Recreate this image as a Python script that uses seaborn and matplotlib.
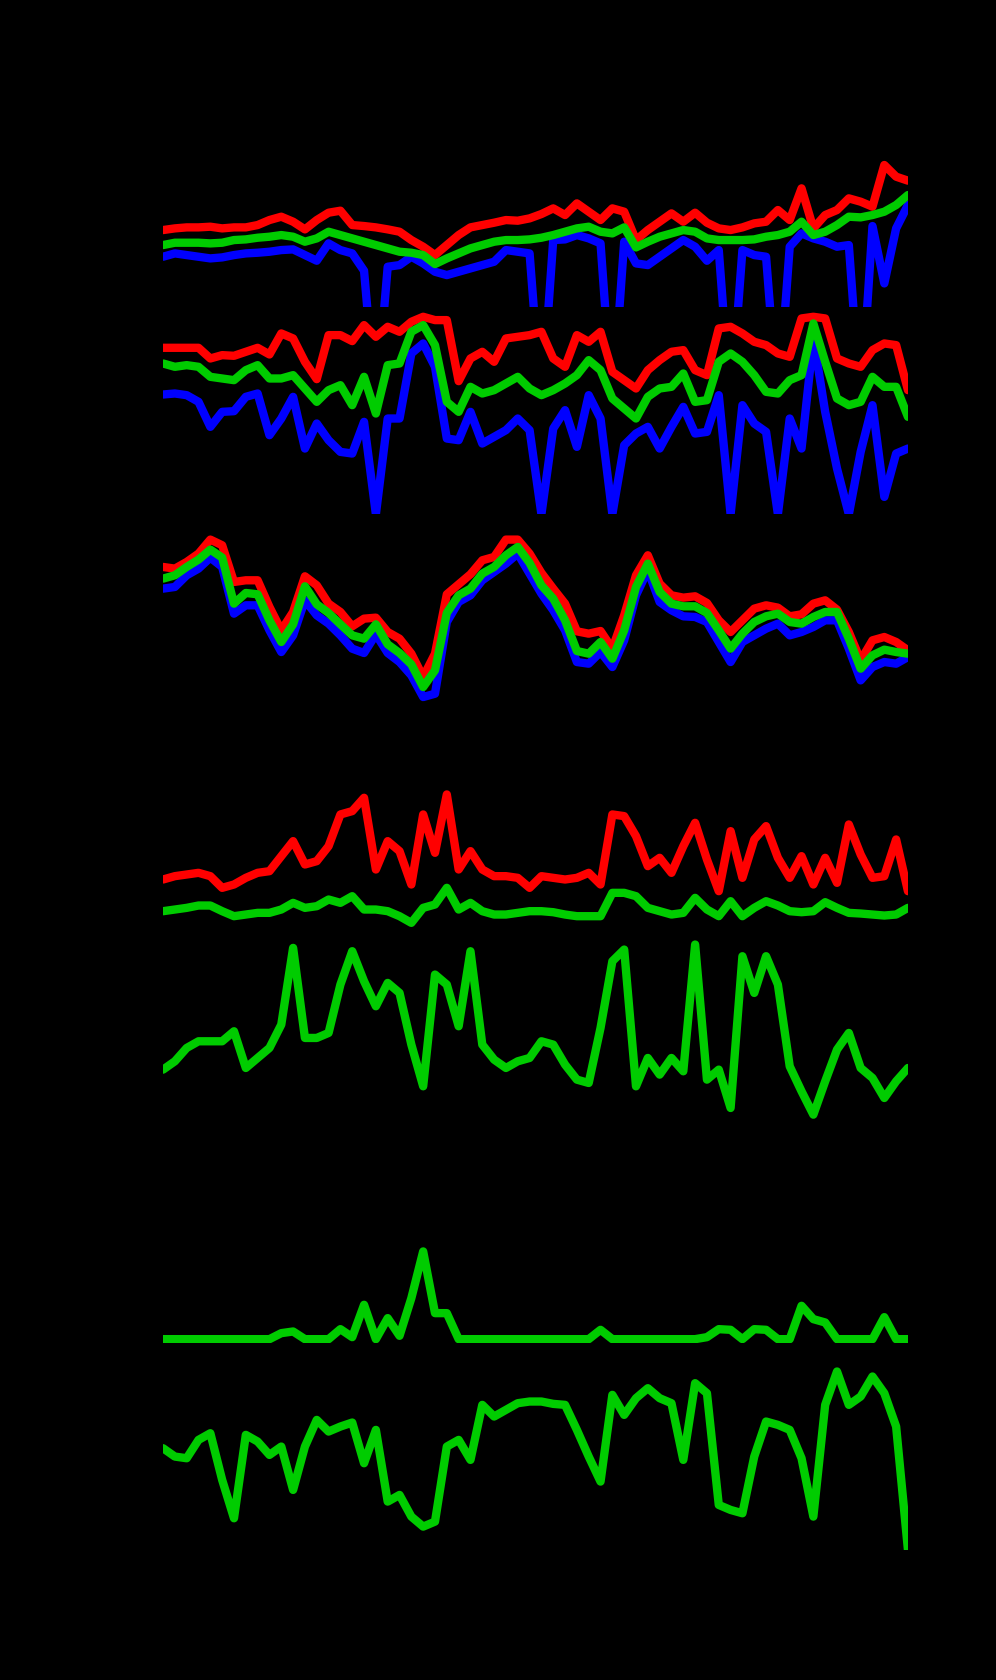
import seaborn as sns
import matplotlib.pyplot as plt
import pandas as pd
import numpy as np

# one reading per day, 64 days
days = list(range(64))

# panel 1 - three traces, the lower one has dropouts
p1_red = [23.1, 23.6, 23.9, 23.9, 24.1, 23.6, 23.9, 23.9, 24.6, 26.1,
          27.1, 25.6, 23.3, 26.1, 28.3, 28.9, 24.6, 24.3, 23.9, 23.3,
          22.6, 20.1, 18.1, 15.6, 18.6, 21.6, 23.9, 24.6, 25.3, 26.1,
          25.9, 26.6, 27.9, 29.6, 27.6, 31.1, 28.6, 26.1, 29.6, 28.6,
          20.1, 23.1, 25.6, 28.1, 25.6, 28.3, 25.3, 23.6, 23.1, 23.9,
          25.1, 25.6, 29.1, 26.1, 35.6, 23.6, 27.6, 29.1, 32.6, 31.6,
          30.1, 42.6, 39.1, 37.9]
p1_green = [18.6, 19.3, 19.3, 19.3, 19.1, 19.3, 20.1, 20.3, 20.8, 21.1,
            21.6, 21.1, 19.6, 20.6, 22.6, 21.6, 20.6, 19.6, 18.6, 17.6,
            16.6, 16.3, 15.6, 12.9, 14.6, 16.1, 17.6, 18.6, 19.6, 20.1,
            20.1, 20.3, 20.8, 21.6, 22.6, 23.6, 24.1, 22.6, 22.1, 23.9,
            17.9, 19.6, 21.1, 22.1, 23.1, 22.6, 20.6, 20.1, 20.1, 20.1,
            20.3, 21.1, 21.6, 22.6, 25.6, 21.6, 22.6, 24.6, 27.1, 26.9,
            27.6, 28.6, 30.6, 33.6]
p1_blue = [15.1, 16.1, 15.6, 15.1, 14.6, 14.9, 15.6, 16.1, 16.3, 16.6,
           17.1, 17.3, 15.6, 13.9, 19.1, 17.1, 16.1, 10.9, -30.0, 12.1,
           12.6, 15.1, 13.1, 10.6, 9.6, 10.6, 11.6, 12.6, 13.6, 17.1,
           16.6, 16.1, -30.0, 20.1, 20.3, 21.6, 20.6, 19.1, -30.0, 19.6,
           13.1, 12.6, 15.1, 17.6, 20.1, 18.1, 13.9, 17.1, -30.0, 17.1,
           15.6, 15.1, -30.0, 18.1, 22.1, 20.6, 19.6, 18.1, 18.6, -30.0,
           24.3, 7.1, 23.6, 30.6]

# panel 2
p2_red = [49.9, 49.9, 49.9, 49.9, 46.7, 47.7, 47.5, 48.7, 49.9, 47.9,
          54.2, 52.7, 45.7, 40.5, 53.7, 53.7, 51.9, 56.7, 53.2, 56.2,
          54.7, 57.7, 59.2, 58.2, 58.2, 39.9, 46.7, 48.7, 45.7, 52.7,
          53.2, 53.7, 54.7, 46.7, 44.2, 53.7, 51.7, 54.7, 42.7, 40.2,
          37.7, 43.2, 46.2, 48.7, 49.2, 43.2, 41.7, 55.7, 56.2, 54.2,
          51.7, 50.7, 48.2, 47.2, 58.7, 59.2, 58.7, 46.7, 45.2, 44.2,
          49.2, 51.2, 50.7, 37.2]
p2_green = [45.2, 44.2, 44.7, 44.2, 41.2, 40.7, 40.2, 43.2, 44.7, 40.7,
            40.7, 41.7, 37.7, 33.7, 37.2, 38.7, 32.7, 41.2, 30.2, 44.7,
            45.2, 54.7, 56.7, 50.7, 33.7, 30.7, 38.2, 36.2, 37.2, 39.2,
            41.2, 37.7, 35.7, 37.2, 39.2, 41.7, 46.2, 43.2, 34.7, 31.7,
            28.7, 35.2, 37.7, 38.2, 42.2, 33.7, 34.2, 45.7, 48.2, 45.7,
            41.7, 36.7, 36.2, 40.2, 41.7, 57.2, 45.7, 34.7, 32.7, 33.7,
            41.2, 38.2, 38.2, 29.2]
p2_blue = [35.9, 36.2, 35.7, 33.7, 26.2, 30.7, 30.9, 35.2, 36.2, 23.7,
           28.7, 35.2, 19.7, 27.2, 22.2, 18.7, 18.2, 27.7, 0.0, 28.7,
           28.7, 48.2, 51.2, 44.2, 22.7, 22.2, 30.7, 21.2, 23.2, 25.2,
           28.7, 25.2, 0.0, 25.7, 31.2, 20.2, 35.7, 28.7, 0.0, 20.7,
           24.2, 26.2, 19.7, 26.2, 32.2, 24.2, 24.7, 35.7, 0.0, 32.7,
           27.2, 24.7, 0.0, 28.7, 19.7, 52.7, 30.7, 13.7, 0.0, 18.7,
           32.7, 5.2, 18.2, 19.7]

# panel 3
p3_red = [46.3, 45.8, 47.8, 50.3, 54.5, 52.8, 41.8, 42.3, 42.3, 34.3,
          27.3, 32.8, 43.5, 40.8, 35.3, 32.8, 28.5, 30.8, 31.1, 26.8,
          24.8, 20.3, 13.3, 20.3, 38.1, 41.1, 44.1, 48.3, 49.3, 54.5,
          54.5, 50.3, 44.5, 39.8, 35.3, 27.0, 26.3, 27.1, 21.8, 31.8,
          43.8, 49.8, 41.3, 37.8, 37.1, 37.5, 35.5, 30.3, 26.8, 30.3,
          33.8, 34.8, 34.1, 31.5, 32.1, 35.3, 36.3, 33.5, 26.8, 18.3,
          24.3, 25.3, 23.8, 21.3]
p3_green = [42.8, 43.8, 46.3, 48.5, 51.5, 49.1, 35.3, 38.5, 38.1, 30.3,
            23.8, 29.1, 40.5, 35.1, 32.5, 29.1, 25.8, 24.8, 29.1, 23.1,
            20.5, 17.1, 10.3, 15.3, 32.5, 37.8, 39.8, 44.3, 46.3, 49.8,
            52.3, 47.5, 40.8, 36.8, 30.3, 21.1, 20.3, 23.8, 18.8, 27.3,
            40.3, 47.3, 38.8, 35.3, 34.5, 34.5, 32.5, 27.3, 21.8, 26.3,
            29.8, 31.5, 32.3, 29.8, 29.3, 31.3, 32.8, 32.8, 24.8, 15.8,
            19.8, 21.5, 20.8, 20.3]
p3_blue = [39.8, 40.3, 43.8, 45.8, 49.1, 46.3, 32.3, 34.8, 34.8, 27.3,
           20.8, 25.8, 36.3, 31.8, 29.3, 25.8, 21.8, 20.5, 26.1, 20.5,
           17.8, 13.8, 7.3, 8.3, 29.8, 35.8, 37.8, 42.3, 44.8, 47.3,
           50.3, 44.3, 38.3, 33.3, 27.3, 17.8, 17.3, 20.8, 16.3, 24.3,
           37.8, 45.3, 35.8, 33.3, 31.5, 31.3, 29.8, 23.8, 17.8, 23.8,
           25.8, 27.8, 29.3, 25.8, 26.8, 28.3, 30.3, 30.3, 21.8, 12.3,
           16.3, 17.8, 17.3, 19.3]

# panel 4
p4_red = [14.7, 15.7, 16.2, 16.7, 15.7, 12.2, 13.2, 15.2, 16.7, 17.2,
          21.7, 26.2, 19.2, 20.2, 24.7, 34.2, 35.2, 39.2, 17.7, 26.2,
          23.2, 13.2, 34.2, 22.7, 40.2, 17.7, 23.2, 17.7, 15.7, 15.7,
          15.2, 12.2, 15.7, 15.2, 14.7, 15.2, 16.7, 13.2, 34.2, 33.7,
          27.7, 18.7, 21.2, 16.7, 24.7, 31.7, 20.7, 11.2, 29.2, 15.2,
          26.7, 30.7, 21.2, 15.2, 21.7, 13.2, 21.2, 13.7, 31.2, 22.2,
          15.2, 15.7, 26.7, 11.2]
p4_green = [5.2, 5.7, 6.2, 6.9, 6.9, 5.2, 3.7, 4.2, 4.7, 4.7,
            5.7, 7.7, 6.2, 6.7, 8.7, 7.7, 9.7, 5.7, 5.7, 5.2,
            3.7, 1.7, 6.2, 7.2, 12.2, 5.7, 7.7, 5.2, 4.2, 4.2,
            4.7, 5.2, 5.2, 4.9, 4.2, 3.7, 3.7, 3.7, 10.7, 10.7,
            9.7, 6.2, 5.2, 4.2, 4.7, 9.2, 5.7, 3.7, 8.2, 3.7,
            6.2, 8.2, 6.9, 5.2, 4.9, 5.2, 7.9, 6.2, 4.7, 4.5,
            4.2, 3.9, 4.2, 6.2]

# panel 5
p5_green = [19.8, 22.3, 26.3, 28.3, 28.3, 28.3, 31.3, 20.3, 23.3, 26.3,
            33.3, 56.3, 29.3, 29.3, 30.8, 45.3, 55.3, 46.3, 38.8, 45.8,
            42.8, 27.3, 14.8, 48.3, 45.3, 32.8, 55.3, 27.3, 22.8, 20.3,
            22.3, 23.3, 28.3, 27.3, 21.3, 16.8, 15.8, 32.3, 52.3, 55.8,
            14.8, 23.3, 18.3, 23.3, 19.3, 57.3, 16.8, 19.8, 8.3, 53.8,
            42.8, 53.8, 45.3, 20.8, 13.3, 6.3, 16.3, 25.8, 30.8, 20.3,
            17.3, 11.3, 16.3, 20.3]

# panel 6 - mostly zero
p6_green = [0, 0, 0, 0, 0, 0, 0, 0, 0, 0,
            1.8, 2.3, 0, 0, 0, 3.0, 0.6, 10.3, 0, 6.3,
            1.0, 12.3, 26.3, 7.8, 7.8, 0, 0, 0, 0, 0,
            0, 0, 0, 0, 0, 0, 0, 2.8, 0, 0,
            0, 0, 0, 0, 0, 0, 0.6, 3.0, 2.8, 0,
            3.0, 2.8, 0, 0, 10.0, 6.0, 5.0, 0, 0, 0,
            0, 6.6, 0, 0]

# panel 7
p7_green = [30.5, 28.0, 27.5, 33.0, 35.0, 21.0, 9.5, 34.5, 32.5, 28.5,
            31.0, 18.0, 31.0, 39.0, 35.5, 37.0, 38.2, 26.0, 36.0, 14.5,
            16.5, 10.0, 7.0, 8.5, 31.0, 33.0, 27.0, 43.5, 40.0, 42.0,
            44.0, 44.5, 44.5, 43.8, 43.5, 36.0, 28.0, 20.5, 46.5, 40.5,
            45.5, 48.5, 45.5, 44.0, 27.0, 50.0, 47.0, 13.5, 12.0, 11.0,
            28.0, 38.5, 37.5, 36.0, 27.5, 10.0, 43.5, 53.5, 43.5, 46.0,
            52.0, 47.0, 37.0, 0.0]

RED = '#ff0000'
GREEN = '#00cc00'
BLUE = '#0000ff'

# drawing order: blue under red under green
panels = [
    ([(p1_blue, BLUE), (p1_red, RED), (p1_green, GREEN)], (0, 62.1)),
    ([(p2_blue, BLUE), (p2_red, RED), (p2_green, GREEN)], (0, 62.1)),
    ([(p3_blue, BLUE), (p3_red, RED), (p3_green, GREEN)], (0, 62.1)),
    ([(p4_red, RED), (p4_green, GREEN)], (0, 62.1)),
    ([(p5_green, GREEN)], (0, 62.1)),
    ([(p6_green, GREEN)], (-1.1, 61.0)),
    ([(p7_green, GREEN)], (0, 62.1)),
]


def main():
    sns.set_theme(style="dark", rc={'figure.facecolor': 'black',
                                    'axes.facecolor': 'black'})

    fig, axes = plt.subplots(len(panels), 1, figsize=(9.96, 16.8), dpi=100, sharex=True)
    fig.subplots_adjust(left=0.1637, right=0.9116, top=0.9405, bottom=0.0774, hspace=0)

    for ax, (series, ylim) in zip(axes, panels):
        for values, color in series:
            df = pd.DataFrame({'day': days, 'value': values})
            sns.lineplot(data=df, x='day', y='value', color=color, linewidth=6,
                         estimator=None, ax=ax, solid_capstyle='round',
                         solid_joinstyle='round')
        ax.set_xlim(days[0], days[-1])
        ax.set_ylim(*ylim)
        ax.axis('off')

    fig.savefig('out.png', facecolor='black')


if __name__ == "__main__":
    main()
